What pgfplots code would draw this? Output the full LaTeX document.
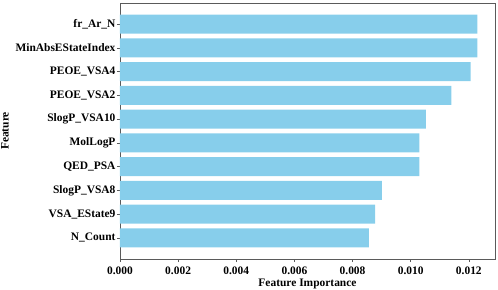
\documentclass[border=0pt]{standalone}
\usepackage{pgfplots}
\pgfplotsset{compat=1.18}
\usepackage{fontspec}
\setmainfont{Liberation Serif}
\definecolor{skyb}{RGB}{135,206,235}
\definecolor{frame}{RGB}{90,90,90}
\begin{document}
\begin{tikzpicture}[x=1bp,y=1bp]
\path[use as bounding box] (-120bp,-31bp) rectangle (378bp,259bp);
\begin{axis}[
  at={(0,0)}, anchor=south west,
  scale only axis, width=375bp, height=256bp,
  xbar, bar width=0.8,
  xmin=0, xmax=0.0129,
  ymin=-0.89, ymax=9.89,
  ytick={0,...,9},
  yticklabels={N\_Count,VSA\_EState9,SlogP\_VSA8,QED\_PSA,MolLogP,SlogP\_VSA10,PEOE\_VSA2,PEOE\_VSA4,MinAbsEStateIndex,fr\_Ar\_N},
  xtick={0,0.002,0.004,0.006,0.008,0.010,0.012},
  xticklabels={0.000,0.002,0.004,0.006,0.008,0.010,0.012},
  scaled x ticks=false,
  tick align=outside,
  xtick pos=bottom, ytick pos=left,
  major tick length=3bp,
  axis line style={frame, line width=0.9pt},
  every tick/.style={frame, line width=0.6pt},
  tick label style={font=\fontsize{11.5}{13}\selectfont\bfseries},
  yticklabel style={xshift=2bp},
  xticklabel style={yshift=-1bp},
  xlabel={Feature Importance},
  ylabel={Feature},
  label style={font=\fontsize{11.5}{13}\selectfont\bfseries},
  xlabel style={yshift=2bp},
  ylabel style={yshift=0bp},
]
\addplot[fill=skyb, draw=none] coordinates {
(0.00856,0) (0.00878,1) (0.00901,2) (0.01030,3) (0.01030,4) (0.01052,5) (0.01140,6) (0.01206,7) (0.01229,8) (0.01229,9)
};
\end{axis}
\end{tikzpicture}
\end{document}
